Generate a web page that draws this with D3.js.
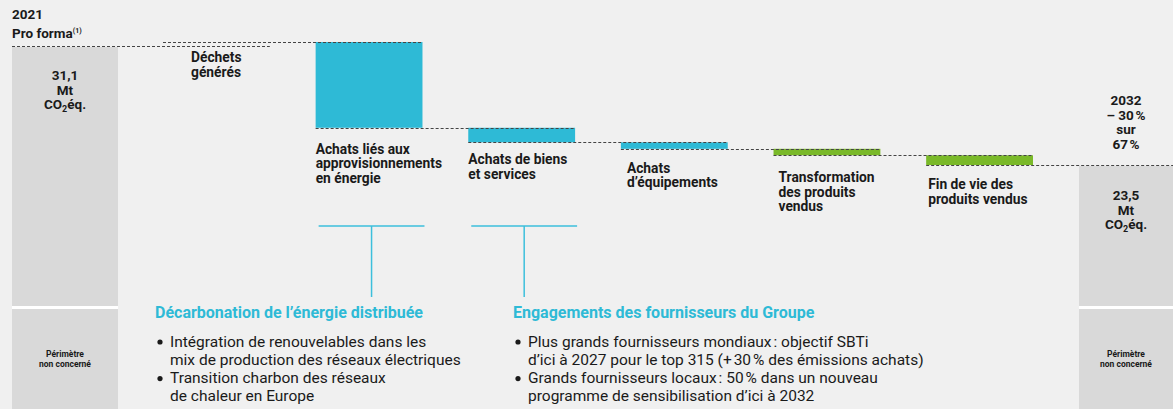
<!DOCTYPE html>
<html>
<head>
<meta charset="utf-8">
<script src="https://cdn.jsdelivr.net/npm/d3@7"></script>
<style>
  html, body { margin: 0; padding: 0; background: #f0f0f0; }
  svg { display: block; font-family: "Roboto", sans-serif; }
</style>
</head>
<body>
<div id="chart"></div>
<script>
// data
var startValue = 31.1;
var endValue = 23.5;
var categories = ["dechets", "energie", "biens", "equipements", "transformation", "findevie"];
var reductions = [0, 5.3, 0.9, 0.4, 0.4, 0.6];
var scopes = ["dechets", "achats", "achats", "achats", "produits", "produits"];
var labels = [
  ["Déchets", "générés"],
  ["Achats liés aux", "approvisionnements", "en énergie"],
  ["Achats de biens", "et services"],
  ["Achats", "d’équipements"],
  ["Transformation", "des produits", "vendus"],
  ["Fin de vie des", "produits vendus"]
];
var leftLabel = ["31,1", "Mt"];
var rightLabel = ["23,5", "Mt"];
var targetLabel = ["2032", "– 30\u202F%", "sur", "67\u202F%"];
var notConcerned = ["Périmètre", "non concerné"];
var actions = [
  { title: "Décarbonation de l’énergie distribuée", cat: "energie",
    bullets: [["Intégration de renouvelables dans les", "mix de production des réseaux électriques"],
              ["Transition charbon des réseaux", "de chaleur en Europe"]] },
  { title: "Engagements des fournisseurs du Groupe", cat: "biens",
    bullets: [["Plus grands fournisseurs mondiaux\u202F: objectif SBTi", "d’ici à 2027 pour le top 315 (+\u202F30\u202F% des émissions achats)"],
              ["Grands fournisseurs locaux\u202F: 50\u202F% dans un nouveau", "programme de sensibilisation d’ici à 2032"]] }
];

var W = 1173, H = 409;
var svg = d3.select("#chart").append("svg")
  .attr("width", W).attr("height", H);

svg.append("rect").attr("width", W).attr("height", H).attr("fill", "#f0f0f0");

var x = d3.scaleBand().domain(categories).range([163, 1033]).paddingInner(0.3);
var y = d3.scaleLinear().domain([endValue, startValue]).range([165, 42]);
var color = d3.scaleOrdinal().domain(["dechets", "achats", "produits"])
  .range(["#2ebad6", "#2ebad6", "#7ab929"]);

// waterfall levels
var levels = [startValue];
reductions.forEach(function (r, i) { levels.push(levels[i] - r); });

var boxL = { x0: 12, x1: 118 }, boxR = { x0: 1079, x1: W };
var split = 306;

// side boxes
svg.append("rect").attr("x", boxL.x0).attr("y", y(startValue) + 5)
  .attr("width", boxL.x1 - boxL.x0).attr("height", split - y(startValue) - 5).attr("fill", "#d9d9d9");
svg.append("rect").attr("x", boxR.x0).attr("y", y(endValue) + 1)
  .attr("width", boxR.x1 - boxR.x0).attr("height", split - y(endValue) - 1).attr("fill", "#d9d9d9");
[boxL, boxR].forEach(function (b) {
  svg.append("rect").attr("x", b.x0).attr("y", split).attr("width", b.x1 - b.x0).attr("height", 3).attr("fill", "#ffffff");
  svg.append("rect").attr("x", b.x0).attr("y", split + 3).attr("width", b.x1 - b.x0).attr("height", H - split - 3).attr("fill", "#d9d9d9");
});

// bars
svg.append("g").selectAll("rect")
  .data(categories)
  .enter().append("rect")
  .attr("x", function (d) { return x(d); })
  .attr("y", function (d, i) { return y(levels[i]); })
  .attr("width", x.bandwidth())
  .attr("height", function (d, i) { return y(levels[i + 1]) - y(levels[i]); })
  .attr("fill", function (d, i) { return color(scopes[i]); });

// dashed connectors
var dash = svg.append("g").attr("stroke", "#444").attr("stroke-width", 1).attr("stroke-dasharray", "3,2");
dash.append("line")
  .attr("x1", boxL.x0).attr("x2", x(categories[0]) + x.bandwidth())
  .attr("y1", y(startValue) + 4.5).attr("y2", y(startValue) + 4.5);
levels.forEach(function (v, i) {
  var xa = i === 0 ? x(categories[0]) : x(categories[i - 1]);
  var xb = i < categories.length ? x(categories[i]) + x.bandwidth() : W;
  dash.append("line")
    .attr("x1", xa).attr("x2", xb)
    .attr("y1", Math.round(y(v)) + 0.5).attr("y2", Math.round(y(v)) + 0.5);
});

// bar labels
var lab = svg.append("g").attr("font-size", 13.8).attr("font-weight", 700).attr("fill", "#1a1a1a");
var labelOffsets = [20, 26, 22, 24, 27, 24];
labels.forEach(function (lines, i) {
  var xx = x(categories[i]) + (i === 0 ? 28 : i === 3 ? 6 : i === 4 ? 5 : i === 5 ? 2 : 0);
  var yy = (i === 0 ? y(levels[0]) + 20 : y(levels[i + 1]) + labelOffsets[i]);
  var t = lab.append("text").attr("x", xx).attr("y", yy);
  lines.forEach(function (l, j) {
    t.append("tspan").attr("x", xx).attr("dy", j === 0 ? 0 : 14.5).text(l);
  });
});

// header
var hd = svg.append("g").attr("font-size", 13.5).attr("font-weight", 700).attr("fill", "#1a1a1a");
hd.append("text").attr("x", 12).attr("y", 19).text("2021");
var pf = hd.append("text").attr("x", 12).attr("y", 38).text("Pro forma");
pf.append("tspan").attr("font-size", 7).attr("dy", -5).text("(1)");

// box labels with CO2
function boxText(cx, y0, lines) {
  var g = svg.append("g").attr("font-size", 13.5).attr("font-weight", 700).attr("fill", "#1a1a1a")
    .attr("text-anchor", "middle");
  lines.forEach(function (l, j) {
    g.append("text").attr("x", cx).attr("y", y0 + j * 14.5).text(l);
  });
  var co = g.append("text").attr("x", cx).attr("y", y0 + lines.length * 14.5);
  co.append("tspan").text("CO");
  co.append("tspan").attr("font-size", 9).attr("dy", 3).text("2");
  co.append("tspan").attr("dy", -3).text("éq.");
}
boxText((boxL.x0 + boxL.x1) / 2, 80, leftLabel);
boxText((boxR.x0 + boxR.x1) / 2, 200, rightLabel);

var tg = svg.append("g").attr("font-size", 13.5).attr("font-weight", 700).attr("fill", "#1a1a1a")
  .attr("text-anchor", "middle");
targetLabel.forEach(function (l, j) {
  tg.append("text").attr("x", (boxR.x0 + boxR.x1) / 2).attr("y", 105 + j * 14.5).text(l);
});

[boxL, boxR].forEach(function (b) {
  var g = svg.append("g").attr("font-size", 8.5).attr("font-weight", 700).attr("fill", "#1a1a1a")
    .attr("text-anchor", "middle");
  notConcerned.forEach(function (l, j) {
    g.append("text").attr("x", (b.x0 + b.x1) / 2).attr("y", 357 + j * 9.5).text(l);
  });
});

// action blocks
var cyan = "#3cbfdc";
var blockX = [155, 513];
actions.forEach(function (a, k) {
  var bx = x(a.cat), cx = bx + x.bandwidth() / 2;
  var g = svg.append("g");
  g.append("line").attr("x1", bx + 3).attr("x2", bx + x.bandwidth() + 2)
    .attr("y1", 226).attr("y2", 226).attr("stroke", cyan).attr("stroke-width", 1.5);
  g.append("line").attr("x1", cx + 2.5).attr("x2", cx + 2.5)
    .attr("y1", 226).attr("y2", 297).attr("stroke", cyan).attr("stroke-width", 1.5);
  var tx = blockX[k];
  g.append("text").attr("x", tx).attr("y", 318).attr("font-size", 16).attr("font-weight", 700)
    .attr("fill", "#2ebad6").text(a.title);
  var row = 0;
  a.bullets.forEach(function (b) {
    g.append("circle").attr("cx", tx + 5).attr("cy", 342 + row * 18.3).attr("r", 2.6).attr("fill", "#1a1a1a");
    b.forEach(function (l) {
      g.append("text").attr("x", tx + 15).attr("y", 346.5 + row * 18.3)
        .attr("font-size", 15.5).attr("fill", "#1a1a1a").text(l);
      row++;
    });
  });
});
</script>
</body>
</html>
